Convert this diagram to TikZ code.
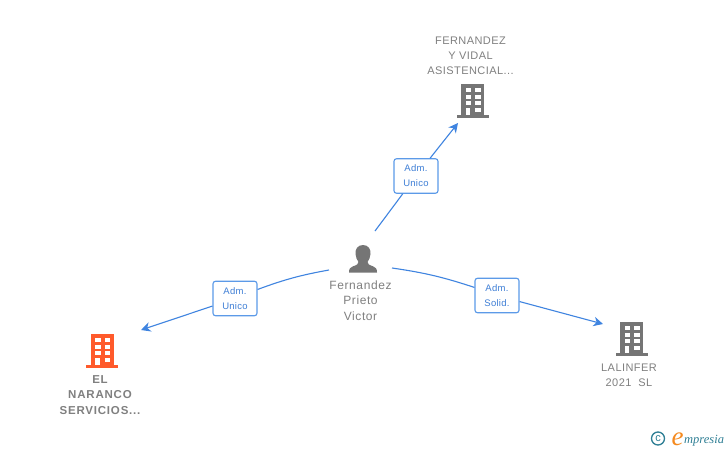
\documentclass[tikz,border=0pt]{standalone}
\usepackage{fontspec}
\setmainfont{Liberation Sans}
\newfontfamily\logofont{Liberation Serif}
\usetikzlibrary{arrows.meta}
\definecolor{linkblue}{HTML}{3F84E0}
\definecolor{boxblue}{HTML}{5C9AE8}
\definecolor{labelblue}{HTML}{3F7FD6}
\definecolor{icongray}{HTML}{757575}
\definecolor{textgray}{HTML}{808080}
\definecolor{iconorange}{HTML}{FF5A2B}
\definecolor{logoteal}{HTML}{2F7F95}
\definecolor{logoorange}{HTML}{F58A1F}
\tikzset{
  x=1pt,y=-1pt,
  rolebox/.style={draw=boxblue,line width=1.1pt,fill=white,rounded corners=2.5pt,
    minimum width=44pt,minimum height=34.5pt,inner sep=0pt,align=center,
    text=labelblue,font=\fontsize{9.5}{15}\selectfont\addfontfeatures{LetterSpace=3}},
  link/.style={draw=linkblue,line width=1.1pt},
  linkarrow/.style={link,-{Stealth[length=9.5pt,width=9.5pt,inset=3pt]}},
  caption/.style={text=textgray,align=center,inner sep=0pt,font=\fontsize{11}{15.2}\selectfont\addfontfeatures{LetterSpace=4}},
  personcaption/.style={caption,font=\fontsize{12}{15.4}\selectfont\addfontfeatures{LetterSpace=5}},
  boldcaption/.style={caption,font=\fontsize{11.5}{15.2}\selectfont\bfseries\addfontfeatures{LetterSpace=7}},
  iconspot/.style={inner sep=0pt,minimum width=32pt,minimum height=34pt},
  pics/building/.style={code={
    \fill[#1] (-11.5,0) rectangle (11.5,33);
    \fill[#1] (-16,31) rectangle (16,34);
    \foreach \r in {4,10.5,17}{
      \fill[white] (-7,\r) rectangle (-1.5,\r+4);
      \fill[white] (2.5,\r) rectangle (8,\r+4);
    }
    \fill[white] (2.5,23.5) rectangle (8,27.5);
    \fill[white] (-7,23.5) rectangle (-2.5,31);
  }}
}
\begin{document}
\begin{tikzpicture}
\useasboundingbox (0,0) rectangle (728,450);
\fill[white] (0,0) rectangle (728,450);

% boxes
\node[rolebox] (adm1) at (416,176) {Adm.\\Unico};
\node[rolebox] (adm2) at (235,298.5) {Adm.\\Unico};
\node[rolebox] (adm3) at (497,295.5) {Adm.\\Solid.};

% free ends
\coordinate (s1) at (375,231);
\coordinate (e1) at (458,123);
\coordinate (s2) at (329,270);
\coordinate (e2) at (141,330);
\coordinate (s3) at (392,268);
\coordinate (e3) at (603,324);

% connectors
\draw[link] (s1) -- (adm1);
\draw[linkarrow] (adm1) -- (e1);
\draw[link] (s2) to[bend right=5] (adm2);
\draw[linkarrow] (adm2) -- (e2);
\draw[link] (s3) to[bend left=5] (adm3);
\draw[linkarrow] (adm3) -- (e3);

% icons
\node[iconspot] (b1) at (472.5,101) {};
\pic at (472.5,84) {building=icongray};
\node[iconspot] (b2) at (102,350.5) {};
\pic at (102,334) {building=iconorange};
\node[iconspot] (b3) at (631.5,339) {};
\pic at (631.5,322) {building=icongray};

% person
\node[iconspot,minimum width=28pt,minimum height=28pt] (person) at (363,258.5) {};
\fill[icongray] (363,245) .. controls (357.5,245) and (355,249.5) .. (355.5,254)
  .. controls (355.8,257.5) and (357,260) .. (358.5,262)
  .. controls (358.5,264) and (357,265) .. (353,266.3)
  .. controls (350.5,267.2) and (349,268.5) .. (349,272.5)
  -- (377,272.5)
  .. controls (377,268.5) and (375.5,267.2) .. (373,266.3)
  .. controls (369,265) and (367.5,264) .. (367.5,262)
  .. controls (369,260) and (370.2,257.5) .. (370.5,254)
  .. controls (371,249.5) and (368.5,245) .. (363,245) -- cycle;

% captions
\node[caption] (t1) at (470.5,55.5) {FERNANDEZ\\Y VIDAL\\ASISTENCIAL...};
\node[personcaption] (t2) at (360.5,300.5) {Fernandez\\Prieto\\Victor};
\node[boldcaption] (t3) at (100,395) {EL\\NARANCO\\SERVICIOS...};
\node[caption] (t4) at (629,375.5) {LALINFER\\2021\ \ SL};

% logo
\node[draw=logoteal,line width=1.3pt,circle,minimum size=13pt,inner sep=0pt,text=logoteal,font=\fontsize{11}{11}\selectfont] (copy) at (658,438.5) {c};
\node[inner sep=0pt,anchor=base,text=logoorange,font=\logofont\itshape\fontsize{27}{27}\selectfont] (logoe) at (677.5,445) {e};
\node[inner sep=0pt,anchor=base west,text=logoteal,font=\logofont\itshape\fontsize{12.5}{12.5}\selectfont] (logot) at (684,443) {mpresia};
\end{tikzpicture}
\end{document}
